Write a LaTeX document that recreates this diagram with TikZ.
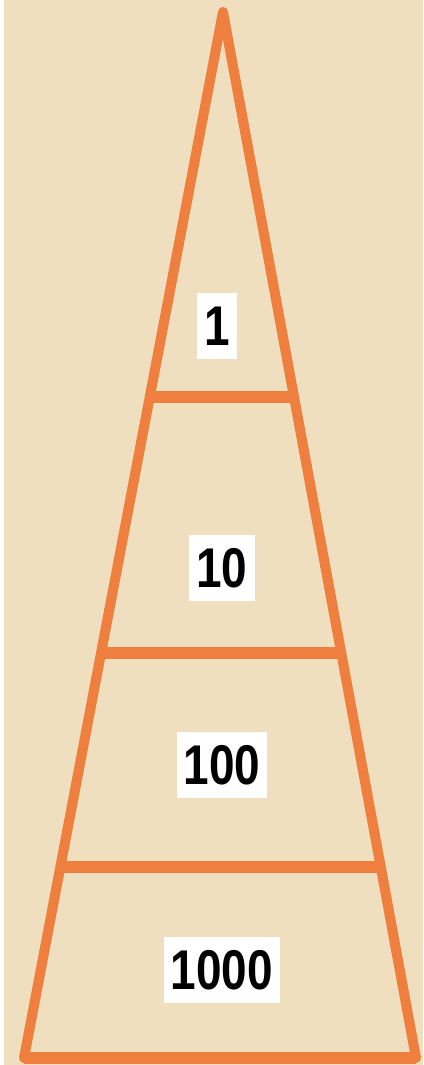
\documentclass[tikz,border=0pt]{standalone}
\usepackage{fontspec}
\setmainfont{Liberation Sans}
\usetikzlibrary{calc}
\definecolor{paper}{HTML}{EFDFBE}
\definecolor{edge}{HTML}{EE7F3E}
\tikzset{
  side/.style={draw=edge, line width=10pt, line join=round, line cap=round},
  rung/.style={draw=edge, line width=12pt},
  lbl/.style={fill=white, inner xsep=7pt, inner ysep=0pt, minimum height=66pt,
    font=\fontsize{56}{56}\selectfont\bfseries}
}
\newcommand{\narrow}[1]{\scalebox{0.82}[1]{#1}}
\begin{document}
\begin{tikzpicture}[x=1pt, y=-1pt]
  \fill[paper] (0,0) rectangle (423,1065);
  \fill[white] (0,0) rectangle (4,1065);
  \coordinate (apex) at (223,12);
  \coordinate (bl) at (24,1058);
  \coordinate (br) at (416,1058);
  % rungs
  \foreach \n/\y in {r1/397, r2/653, r3/867}{
    \pgfmathsetmacro{\t}{(\y-12)/(1058-12)}
    \coordinate (\n l) at ($(apex)!\t!(bl)$);
    \coordinate (\n r) at ($(apex)!\t!(br)$);
    \draw[rung] (\n l) -- (\n r);
  }
  \draw[side] (bl) -- (apex) -- (br);
  \draw[draw=edge, line width=12pt] (bl) -- (br);
  \node[lbl] (l1) at (217,326) {\narrow{1}};
  \node[lbl] (l2) at (222,568) {\narrow{10}};
  \node[lbl] (l3) at (222,765) {\narrow{100}};
  \node[lbl] (l4) at (222,970) {\narrow{1000}};
\end{tikzpicture}
\end{document}
